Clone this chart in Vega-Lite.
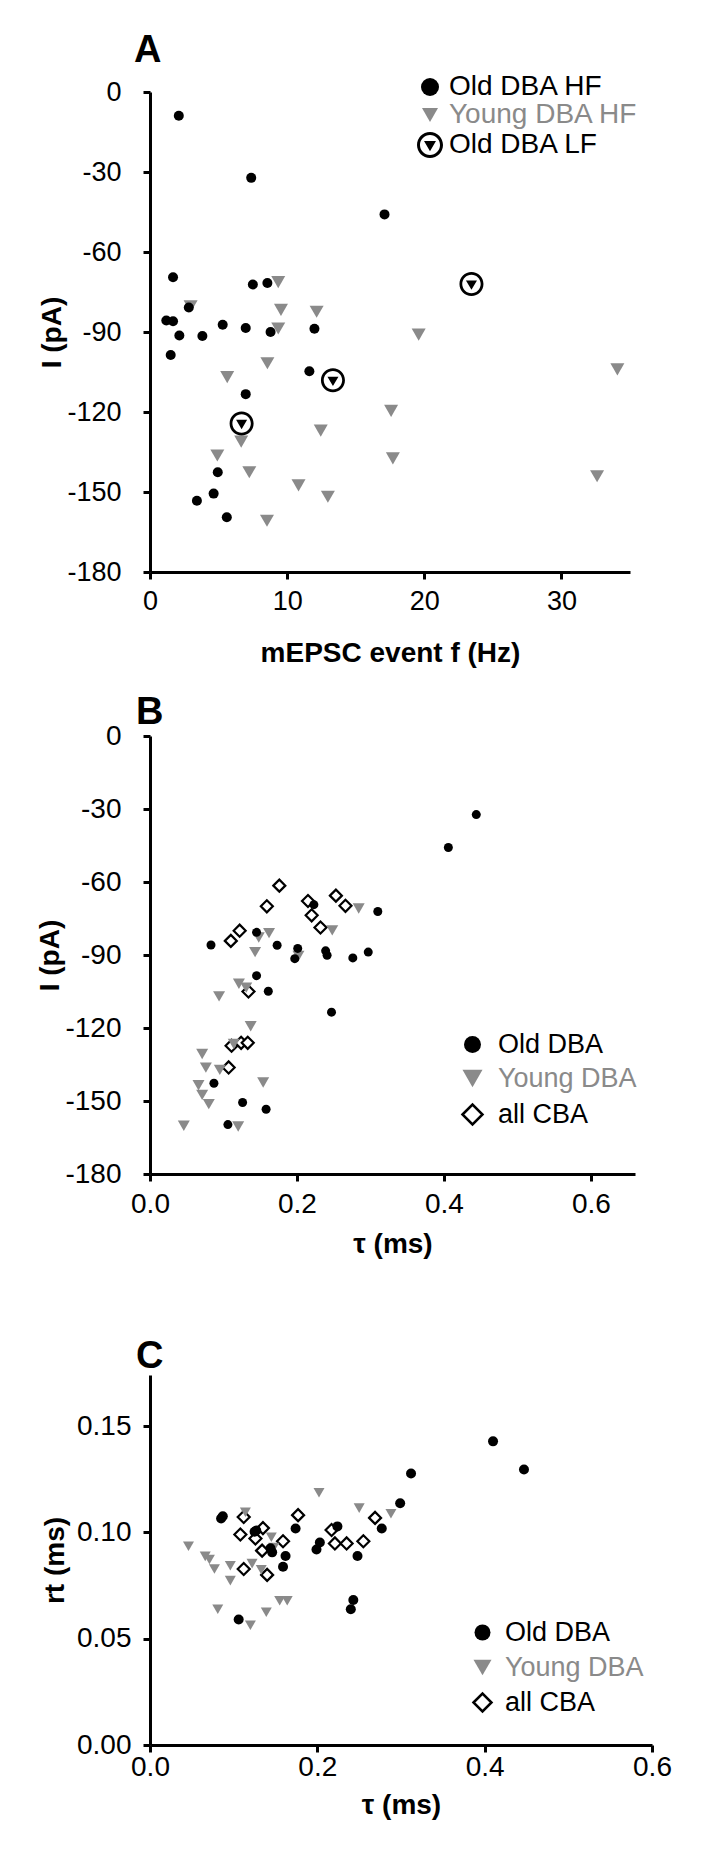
{
  "$schema": "https://vega.github.io/schema/vega-lite/v6.json",
  "background": "white",
  "padding": {"left": 36, "top": 32, "right": 5, "bottom": 5},
  "spacing": 27,
  "resolve": {
    "scale": {"x": "independent", "y": "independent", "shape": "independent", "fill": "independent", "stroke": "independent"},
    "legend": {"shape": "independent", "fill": "independent", "stroke": "independent"}
  },
  "config": {
    "view": {"stroke": null},
    "font": "Liberation Sans",
    "axis": {
      "grid": false, "domainColor": "black", "domainWidth": 3, "tickColor": "black", "tickWidth": 3, "tickSize": 7,
      "labelFont": "Liberation Sans", "labelColor": "black", "titleFont": "Liberation Sans", "titleFontWeight": "bold",
      "titleColor": "black", "titleFontSize": 28, "labelFlush": false, "labelOverlap": false
    },
    "legend": {"orient": "none", "padding": 0, "labelFont": "Liberation Sans", "labelFontSize": 27, "symbolStrokeWidth": 2.5, "labelLimit": 400},
    "title": {"anchor": "start", "frame": "group", "font": "Liberation Sans", "fontSize": 38, "fontWeight": "bold", "color": "black", "baseline": "alphabetic"}
  },
  "datasets": {
    "A": [
      {"f": 9.35, "I": -71.3, "group": "Young DBA HF"},
      {"f": 2.96, "I": -80.4, "group": "Young DBA HF"},
      {"f": 9.55, "I": -81.7, "group": "Young DBA HF"},
      {"f": 9.35, "I": -88.7, "group": "Young DBA HF"},
      {"f": 12.15, "I": -82.4, "group": "Young DBA HF"},
      {"f": 5.63, "I": -106.9, "group": "Young DBA HF"},
      {"f": 8.56, "I": -101.7, "group": "Young DBA HF"},
      {"f": 19.59, "I": -91.0, "group": "Young DBA HF"},
      {"f": 34.08, "I": -104.0, "group": "Young DBA HF"},
      {"f": 17.58, "I": -119.6, "group": "Young DBA HF"},
      {"f": 12.45, "I": -127.0, "group": "Young DBA HF"},
      {"f": 6.65, "I": -131.1, "group": "Young DBA HF"},
      {"f": 4.91, "I": -136.3, "group": "Young DBA HF"},
      {"f": 7.24, "I": -142.6, "group": "Young DBA HF"},
      {"f": 17.71, "I": -137.4, "group": "Young DBA HF"},
      {"f": 10.83, "I": -147.5, "group": "Young DBA HF"},
      {"f": 12.97, "I": -151.8, "group": "Young DBA HF"},
      {"f": 8.53, "I": -160.8, "group": "Young DBA HF"},
      {"f": 32.6, "I": -144.1, "group": "Young DBA HF"},
      {"f": 2.1, "I": -8.9, "group": "Old DBA HF"},
      {"f": 7.38, "I": -32.2, "group": "Old DBA HF"},
      {"f": 17.1, "I": -45.9, "group": "Old DBA HF"},
      {"f": 1.68, "I": -69.5, "group": "Old DBA HF"},
      {"f": 7.5, "I": -72.2, "group": "Old DBA HF"},
      {"f": 8.56, "I": -71.6, "group": "Old DBA HF"},
      {"f": 2.83, "I": -80.8, "group": "Old DBA HF"},
      {"f": 1.19, "I": -85.7, "group": "Old DBA HF"},
      {"f": 1.68, "I": -86.0, "group": "Old DBA HF"},
      {"f": 2.14, "I": -91.3, "group": "Old DBA HF"},
      {"f": 3.82, "I": -91.5, "group": "Old DBA HF"},
      {"f": 5.3, "I": -87.3, "group": "Old DBA HF"},
      {"f": 6.98, "I": -88.5, "group": "Old DBA HF"},
      {"f": 8.79, "I": -90.0, "group": "Old DBA HF"},
      {"f": 11.99, "I": -88.8, "group": "Old DBA HF"},
      {"f": 1.51, "I": -98.6, "group": "Old DBA HF"},
      {"f": 11.62, "I": -104.7, "group": "Old DBA HF"},
      {"f": 6.98, "I": -113.3, "group": "Old DBA HF"},
      {"f": 4.94, "I": -142.6, "group": "Old DBA HF"},
      {"f": 4.64, "I": -150.6, "group": "Old DBA HF"},
      {"f": 3.42, "I": -153.3, "group": "Old DBA HF"},
      {"f": 5.6, "I": -159.5, "group": "Old DBA HF"},
      {"f": 6.68, "I": -124.3, "group": "Old DBA LF"},
      {"f": 13.34, "I": -108.1, "group": "Old DBA LF"},
      {"f": 23.44, "I": -72.0, "group": "Old DBA LF"}
    ],
    "B": [
      {"tau": 0.176, "I": -61.5, "group": "all CBA"},
      {"tau": 0.159, "I": -70.0, "group": "all CBA"},
      {"tau": 0.215, "I": -67.8, "group": "all CBA"},
      {"tau": 0.220, "I": -73.7, "group": "all CBA"},
      {"tau": 0.253, "I": -65.6, "group": "all CBA"},
      {"tau": 0.266, "I": -69.8, "group": "all CBA"},
      {"tau": 0.232, "I": -78.7, "group": "all CBA"},
      {"tau": 0.122, "I": -80.0, "group": "all CBA"},
      {"tau": 0.110, "I": -84.2, "group": "all CBA"},
      {"tau": 0.134, "I": -105.0, "group": "all CBA"},
      {"tau": 0.111, "I": -127.3, "group": "all CBA"},
      {"tau": 0.124, "I": -126.1, "group": "all CBA"},
      {"tau": 0.133, "I": -126.1, "group": "all CBA"},
      {"tau": 0.107, "I": -136.2, "group": "all CBA"},
      {"tau": 0.284, "I": -70.9, "group": "Young DBA"},
      {"tau": 0.148, "I": -82.8, "group": "Young DBA"},
      {"tau": 0.162, "I": -81.0, "group": "Young DBA"},
      {"tau": 0.143, "I": -88.8, "group": "Young DBA"},
      {"tau": 0.248, "I": -79.9, "group": "Young DBA"},
      {"tau": 0.202, "I": -90.4, "group": "Young DBA"},
      {"tau": 0.094, "I": -107.0, "group": "Young DBA"},
      {"tau": 0.121, "I": -101.8, "group": "Young DBA"},
      {"tau": 0.131, "I": -103.4, "group": "Young DBA"},
      {"tau": 0.137, "I": -119.3, "group": "Young DBA"},
      {"tau": 0.114, "I": -126.6, "group": "Young DBA"},
      {"tau": 0.071, "I": -130.7, "group": "Young DBA"},
      {"tau": 0.076, "I": -136.3, "group": "Young DBA"},
      {"tau": 0.095, "I": -137.2, "group": "Young DBA"},
      {"tau": 0.066, "I": -143.5, "group": "Young DBA"},
      {"tau": 0.071, "I": -147.5, "group": "Young DBA"},
      {"tau": 0.080, "I": -151.3, "group": "Young DBA"},
      {"tau": 0.154, "I": -142.4, "group": "Young DBA"},
      {"tau": 0.046, "I": -160.2, "group": "Young DBA"},
      {"tau": 0.120, "I": -160.5, "group": "Young DBA"},
      {"tau": 0.444, "I": -32.3, "group": "Old DBA"},
      {"tau": 0.406, "I": -45.8, "group": "Old DBA"},
      {"tau": 0.310, "I": -72.1, "group": "Old DBA"},
      {"tau": 0.223, "I": -69.3, "group": "Old DBA"},
      {"tau": 0.083, "I": -85.9, "group": "Old DBA"},
      {"tau": 0.145, "I": -80.7, "group": "Old DBA"},
      {"tau": 0.173, "I": -86.0, "group": "Old DBA"},
      {"tau": 0.201, "I": -87.3, "group": "Old DBA"},
      {"tau": 0.197, "I": -91.5, "group": "Old DBA"},
      {"tau": 0.239, "I": -88.3, "group": "Old DBA"},
      {"tau": 0.241, "I": -90.1, "group": "Old DBA"},
      {"tau": 0.276, "I": -91.2, "group": "Old DBA"},
      {"tau": 0.297, "I": -88.8, "group": "Old DBA"},
      {"tau": 0.145, "I": -98.5, "group": "Old DBA"},
      {"tau": 0.161, "I": -104.9, "group": "Old DBA"},
      {"tau": 0.247, "I": -113.5, "group": "Old DBA"},
      {"tau": 0.087, "I": -142.7, "group": "Old DBA"},
      {"tau": 0.126, "I": -150.6, "group": "Old DBA"},
      {"tau": 0.158, "I": -153.4, "group": "Old DBA"},
      {"tau": 0.106, "I": -159.7, "group": "Old DBA"}
    ],
    "C": [
      {"tau": 0.112, "rt": 0.1072, "group": "all CBA"},
      {"tau": 0.177, "rt": 0.1081, "group": "all CBA"},
      {"tau": 0.269, "rt": 0.1068, "group": "all CBA"},
      {"tau": 0.108, "rt": 0.0990, "group": "all CBA"},
      {"tau": 0.126, "rt": 0.0971, "group": "all CBA"},
      {"tau": 0.135, "rt": 0.1020, "group": "all CBA"},
      {"tau": 0.134, "rt": 0.0914, "group": "all CBA"},
      {"tau": 0.159, "rt": 0.0958, "group": "all CBA"},
      {"tau": 0.217, "rt": 0.1011, "group": "all CBA"},
      {"tau": 0.221, "rt": 0.0948, "group": "all CBA"},
      {"tau": 0.235, "rt": 0.0948, "group": "all CBA"},
      {"tau": 0.255, "rt": 0.0958, "group": "all CBA"},
      {"tau": 0.112, "rt": 0.0828, "group": "all CBA"},
      {"tau": 0.140, "rt": 0.0800, "group": "all CBA"},
      {"tau": 0.202, "rt": 0.1186, "group": "Young DBA"},
      {"tau": 0.114, "rt": 0.1095, "group": "Young DBA"},
      {"tau": 0.250, "rt": 0.1114, "group": "Young DBA"},
      {"tau": 0.288, "rt": 0.1087, "group": "Young DBA"},
      {"tau": 0.046, "rt": 0.0935, "group": "Young DBA"},
      {"tau": 0.066, "rt": 0.0887, "group": "Young DBA"},
      {"tau": 0.071, "rt": 0.0872, "group": "Young DBA"},
      {"tau": 0.077, "rt": 0.0828, "group": "Young DBA"},
      {"tau": 0.096, "rt": 0.0843, "group": "Young DBA"},
      {"tau": 0.096, "rt": 0.0773, "group": "Young DBA"},
      {"tau": 0.122, "rt": 0.0853, "group": "Young DBA"},
      {"tau": 0.133, "rt": 0.0824, "group": "Young DBA"},
      {"tau": 0.145, "rt": 0.0977, "group": "Young DBA"},
      {"tau": 0.148, "rt": 0.0929, "group": "Young DBA"},
      {"tau": 0.081, "rt": 0.0638, "group": "Young DBA"},
      {"tau": 0.120, "rt": 0.0563, "group": "Young DBA"},
      {"tau": 0.139, "rt": 0.0624, "group": "Young DBA"},
      {"tau": 0.155, "rt": 0.0678, "group": "Young DBA"},
      {"tau": 0.164, "rt": 0.0678, "group": "Young DBA"},
      {"tau": 0.410, "rt": 0.1428, "group": "Old DBA"},
      {"tau": 0.447, "rt": 0.1296, "group": "Old DBA"},
      {"tau": 0.312, "rt": 0.1277, "group": "Old DBA"},
      {"tau": 0.299, "rt": 0.1137, "group": "Old DBA"},
      {"tau": 0.085, "rt": 0.1065, "group": "Old DBA"},
      {"tau": 0.087, "rt": 0.1076, "group": "Old DBA"},
      {"tau": 0.174, "rt": 0.1018, "group": "Old DBA"},
      {"tau": 0.224, "rt": 0.1028, "group": "Old DBA"},
      {"tau": 0.277, "rt": 0.1018, "group": "Old DBA"},
      {"tau": 0.127, "rt": 0.1009, "group": "Old DBA"},
      {"tau": 0.125, "rt": 0.1003, "group": "Old DBA"},
      {"tau": 0.203, "rt": 0.0952, "group": "Old DBA"},
      {"tau": 0.199, "rt": 0.0919, "group": "Old DBA"},
      {"tau": 0.144, "rt": 0.0925, "group": "Old DBA"},
      {"tau": 0.146, "rt": 0.0906, "group": "Old DBA"},
      {"tau": 0.162, "rt": 0.0889, "group": "Old DBA"},
      {"tau": 0.159, "rt": 0.0838, "group": "Old DBA"},
      {"tau": 0.248, "rt": 0.0889, "group": "Old DBA"},
      {"tau": 0.243, "rt": 0.0682, "group": "Old DBA"},
      {"tau": 0.240, "rt": 0.0638, "group": "Old DBA"},
      {"tau": 0.106, "rt": 0.0590, "group": "Old DBA"}
    ]
  },
  "vconcat": [
    {
      "title": {"text": "A", "dx": -16, "offset": 3},
      "width": 480,
      "height": 480,
      "data": {"name": "A"},
      "mark": {"type": "point", "filled": true, "opacity": 1},
      "encoding": {
        "x": {"field": "f", "type": "quantitative", "scale": {"domain": [0, 35], "nice": false, "zero": false},
          "axis": {"values": [0, 10, 20, 30], "labelExpr": "'' + datum.value", "labelFontSize": 27, "labelPadding": 9, "title": "mEPSC event f (Hz)", "titlePadding": 25}},
        "y": {"field": "I", "type": "quantitative", "scale": {"domain": [-180, 0], "nice": false, "zero": false},
          "axis": {"values": [-180, -150, -120, -90, -60, -30, 0], "labelExpr": "'' + datum.value", "labelFontSize": 27, "labelPadding": 22, "title": "I (pA)", "titlePadding": 0}},
        "shape": {"field": "group", "type": "nominal",
          "scale": {"domain": ["Old DBA HF", "Young DBA HF", "Old DBA LF"], "range": ["circle", "triangle-down", "M1,0A1,1,0,1,1,-1,0A1,1,0,1,1,1,0ZM0.77,0A0.77,0.77,0,1,0,-0.77,0A0.77,0.77,0,1,0,0.77,0ZM-0.46,-0.3L0.46,-0.3L0,0.48Z"]},
          "legend": {"title": null, "orient": "none", "legendX": 266, "legendY": -19, "labelOffset": 5, "rowPadding": -2, "labelFontSize": 28,
            "symbolSize": {"expr": "datum.value === 'Old DBA LF' ? 676 : datum.value === 'Old DBA HF' ? 324 : 256"},
            "labelColor": {"expr": "datum.value === 'Young DBA HF' ? '#8a8a8a' : 'black'"}}},
        "fill": {"field": "group", "type": "nominal",
          "scale": {"domain": ["Old DBA HF", "Young DBA HF", "Old DBA LF"], "range": ["black", "#8a8a8a", "black"]},
          "legend": {"title": null, "orient": "none", "legendX": 266, "legendY": -19, "labelOffset": 5, "rowPadding": -2, "labelFontSize": 28,
            "symbolSize": {"expr": "datum.value === 'Old DBA LF' ? 676 : datum.value === 'Old DBA HF' ? 324 : 256"},
            "labelColor": {"expr": "datum.value === 'Young DBA HF' ? '#8a8a8a' : 'black'"}}},
        "size": {"condition": [{"test": "datum.group === 'Old DBA LF'", "value": 576}, {"test": "datum.group === 'Young DBA HF'", "value": 196}], "value": 100}
      }
    },
    {
      "title": {"text": "B", "dx": -14, "offset": -10},
      "width": 485,
      "height": 438,
      "data": {"name": "B"},
      "mark": {"type": "point", "filled": true, "opacity": 1, "strokeWidth": 2.2},
      "encoding": {
        "x": {"field": "tau", "type": "quantitative", "scale": {"domain": [0, 0.66], "nice": false, "zero": false},
          "axis": {"values": [0, 0.2, 0.4, 0.6], "format": ".1f", "labelFontSize": 28, "labelPadding": 9, "title": ["τ (ms)", " "], "titleLineHeight": 53, "titlePadding": 12}},
        "y": {"field": "I", "type": "quantitative", "scale": {"domain": [-180, 0], "nice": false, "zero": false},
          "axis": {"values": [-180, -150, -120, -90, -60, -30, 0], "labelExpr": "'' + datum.value", "labelFontSize": 28, "labelPadding": 22, "title": "I (pA)", "titlePadding": 0}},
        "shape": {"field": "group", "type": "nominal",
          "scale": {"domain": ["Old DBA", "Young DBA", "all CBA"], "range": ["circle", "triangle-down", "diamond"]},
          "legend": {"title": null, "orient": "none", "legendX": 309, "legendY": 295, "labelOffset": 12, "rowPadding": 6,
            "symbolSize": {"expr": "datum.value === 'Old DBA' ? 289 : 400"},
            "labelColor": {"expr": "datum.value === 'Young DBA' ? '#8a8a8a' : 'black'"}}},
        "fill": {"field": "group", "type": "nominal",
          "scale": {"domain": ["Old DBA", "Young DBA", "all CBA"], "range": ["black", "#8a8a8a", "white"]},
          "legend": {"title": null, "orient": "none", "legendX": 309, "legendY": 295, "labelOffset": 12, "rowPadding": 6,
            "symbolSize": {"expr": "datum.value === 'Old DBA' ? 289 : 400"},
            "labelColor": {"expr": "datum.value === 'Young DBA' ? '#8a8a8a' : 'black'"}}},
        "stroke": {"field": "group", "type": "nominal",
          "scale": {"domain": ["Old DBA", "Young DBA", "all CBA"], "range": ["transparent", "transparent", "black"]},
          "legend": {"title": null, "orient": "none", "legendX": 309, "legendY": 295, "labelOffset": 12, "rowPadding": 6,
            "symbolSize": {"expr": "datum.value === 'Old DBA' ? 289 : 400"},
            "labelColor": {"expr": "datum.value === 'Young DBA' ? '#8a8a8a' : 'black'"}}},
        "size": {"condition": [{"test": "datum.group === 'Old DBA'", "value": 81}], "value": 144}
      }
    },
    {
      "title": {"text": "C", "dx": -14, "offset": -1},
      "width": 502,
      "height": 370,
      "data": {"name": "C"},
      "mark": {"type": "point", "filled": true, "opacity": 1, "strokeWidth": 2.2},
      "encoding": {
        "x": {"field": "tau", "type": "quantitative", "scale": {"domain": [0, 0.6], "nice": false, "zero": false},
          "axis": {"values": [0, 0.2, 0.4, 0.6], "format": ".1f", "labelFontSize": 28, "labelPadding": 1, "title": "τ (ms)", "titlePadding": 10}},
        "y": {"field": "rt", "type": "quantitative", "scale": {"domain": [0, 0.174], "nice": false, "zero": false},
          "axis": {"values": [0, 0.05, 0.1, 0.15], "format": ".2f", "labelFontSize": 28, "labelPadding": 12, "title": "rt (ms)", "titlePadding": 7}},
        "shape": {"field": "group", "type": "nominal",
          "scale": {"domain": ["Old DBA", "Young DBA", "all CBA"], "range": ["circle", "triangle-down", "diamond"]},
          "legend": {"title": null, "orient": "none", "legendX": 319, "legendY": 244, "labelOffset": 9, "rowPadding": 7,
            "symbolSize": {"expr": "datum.value === 'Old DBA' ? 256 : 324"},
            "labelColor": {"expr": "datum.value === 'Young DBA' ? '#8a8a8a' : 'black'"}}},
        "fill": {"field": "group", "type": "nominal",
          "scale": {"domain": ["Old DBA", "Young DBA", "all CBA"], "range": ["black", "#8a8a8a", "white"]},
          "legend": {"title": null, "orient": "none", "legendX": 319, "legendY": 244, "labelOffset": 9, "rowPadding": 7,
            "symbolSize": {"expr": "datum.value === 'Old DBA' ? 256 : 324"},
            "labelColor": {"expr": "datum.value === 'Young DBA' ? '#8a8a8a' : 'black'"}}},
        "stroke": {"field": "group", "type": "nominal",
          "scale": {"domain": ["Old DBA", "Young DBA", "all CBA"], "range": ["transparent", "transparent", "black"]},
          "legend": {"title": null, "orient": "none", "legendX": 319, "legendY": 244, "labelOffset": 9, "rowPadding": 7,
            "symbolSize": {"expr": "datum.value === 'Old DBA' ? 256 : 324"},
            "labelColor": {"expr": "datum.value === 'Young DBA' ? '#8a8a8a' : 'black'"}}},
        "size": {"condition": [{"test": "datum.group === 'Young DBA'", "value": 121}, {"test": "datum.group === 'all CBA'", "value": 144}], "value": 100}
      }
    }
  ]
}
